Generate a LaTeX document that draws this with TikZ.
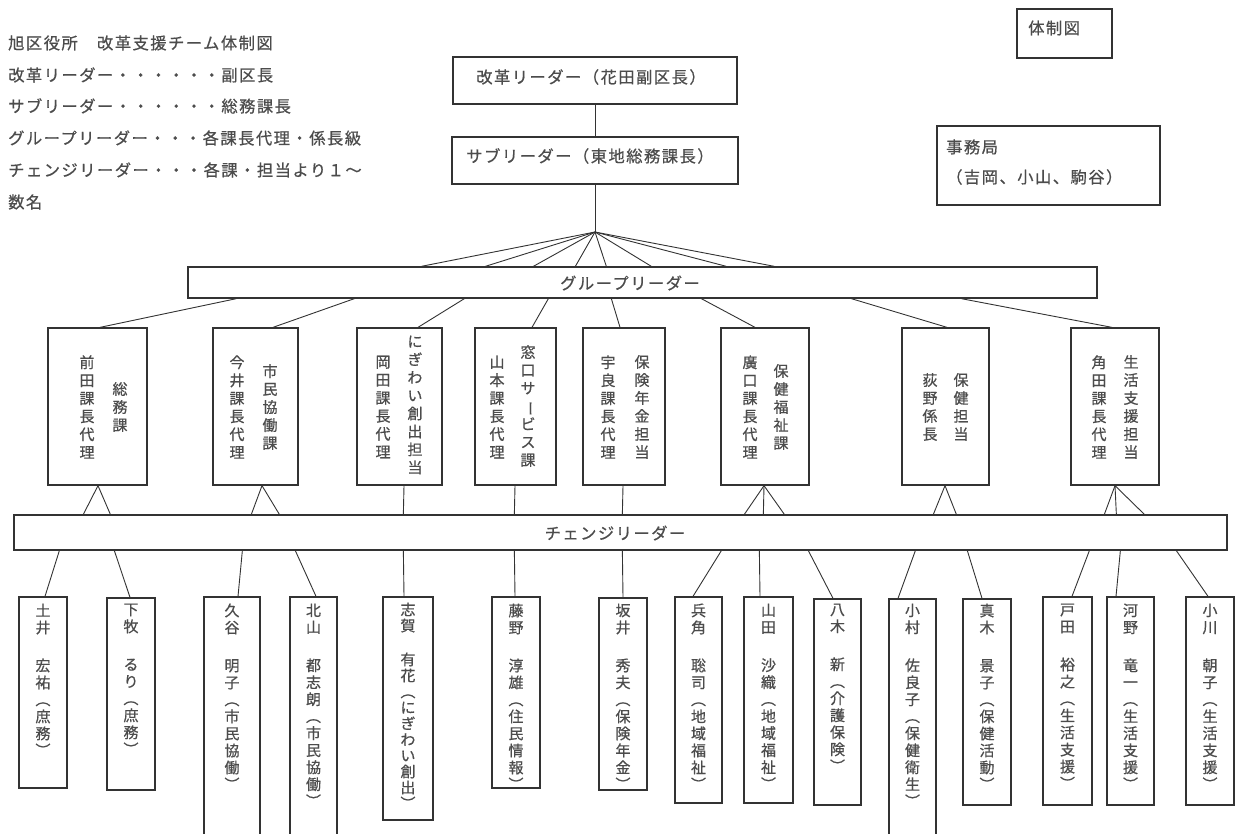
\documentclass[tikz,border=0pt]{standalone}
\usepackage{fontspec}
\usepackage{graphicx}
\newfontfamily\cjk{Noto Sans CJK JP}[FakeBold=0.6]
\newfontfamily\cjkw{Noto Sans CJK JP}[LetterSpace=9,FakeBold=0.6]
\usetikzlibrary{calc}
\newcommand\VL{\rotatebox[origin=c]{-90}{（}}
\newcommand\VR{\rotatebox[origin=c]{-90}{）}}
\newcommand\VB{\rotatebox[origin=c]{-90}{ー}}
\definecolor{ink}{gray}{0.2}
\definecolor{txt}{gray}{0.3}
\begin{document}
\begin{tikzpicture}[x=1pt,y=-1pt,
  box/.style={draw=ink, line width=1.3pt, fill=white, inner sep=0pt},
  conn/.style={draw=ink, line width=0.9pt},
  hline/.style={font=\cjkw\fontsize{16.3}{18}\selectfont, text=txt, inner sep=0pt},
  vcol/.style={font=\cjk\fontsize{15}{18}\selectfont, text=txt, align=center, inner sep=0pt},
  vname/.style={font=\cjk\fontsize{15}{17}\selectfont, text=txt, align=center, inner sep=0pt, anchor=north},
]
\useasboundingbox (0,0) rectangle (1236,833);
\clip (0,0) rectangle (1236,833);
\fill[white] (0,0) rectangle (1236,833);

% title lines
\node[hline, anchor=west] (t1) at (8,43) {旭区役所　改革支援チーム体制図};
\node[hline, anchor=west] (t2) at (8,75) {改革リーダー・・・・・・副区長};
\node[hline, anchor=west] (t3) at (8,106) {サブリーダー・・・・・・総務課長};
\node[hline, anchor=west] (t4) at (8,138) {グループリーダー・・・各課長代理・係長級};
\node[hline, anchor=west] (t5) at (8,170) {チェンジリーダー・・・各課・担当より１～};
\node[hline, anchor=west] (t6) at (8,202) {数名};

% top right boxes
\node[box, minimum width=95, minimum height=49] (tz) at (1064.5,33.5) {};
\node[hline, anchor=west] (tzt) at (1028,28) {体制図};
\node[box, minimum width=223, minimum height=79] (jm) at (1048.5,165.5) {};
\node[hline, anchor=west] (jm1) at (946,147) {事務局};
\node[hline, anchor=west] (jm2) at (946,177) {（吉岡、小山、駒谷）};

% leaders
\node[box, minimum width=284, minimum height=47] (r1) at (595,80.5) {};
\node[hline] (r1t) at (591,77) {改革リーダー（花田副区長）};
\node[box, minimum width=286, minimum height=47] (r2) at (595,160.5) {};
\node[hline] (r2t) at (590,156) {サブリーダー（東地総務課長）};
\coordinate (fan) at (595,232);

% bars
\node[box, minimum width=909, minimum height=31] (gl) at (642.5,282.5) {};
\node[hline] (glt) at (630,283) {グループリーダー};
\node[box, minimum width=1213, minimum height=35] (cl) at (620.5,532.5) {};
\node[hline] (clt) at (615,533) {チェンジリーダー};

% group leader boxes
\node[box, minimum width=99, minimum height=157] (g1) at (97.5,406.5) {};
\node[box, minimum width=85, minimum height=157] (g2) at (255.5,406.5) {};
\node[box, minimum width=85, minimum height=157] (g3) at (399.5,406.5) {};
\node[box, minimum width=81, minimum height=157] (g4) at (515.5,406.5) {};
\node[box, minimum width=82, minimum height=157] (g5) at (624,406.5) {};
\node[box, minimum width=88, minimum height=157] (g6) at (765,406.5) {};
\node[box, minimum width=87, minimum height=157] (g7) at (945.5,406.5) {};
\node[box, minimum width=88, minimum height=157] (g8) at (1115,406.5) {};

\node[vcol] (g1r) at (120,407) {総\\務\\課};
\node[vcol] (g1l) at (87,407) {前\\田\\課\\長\\代\\理};
\node[vcol] (g2r) at (270,407) {市\\民\\協\\働\\課};
\node[vcol] (g2l) at (237,407) {今\\井\\課\\長\\代\\理};
\node[vcol] (g3r) at (415,405) {に\\ぎ\\わ\\い\\創\\出\\担\\当};
\node[vcol] (g3l) at (383,407) {岡\\田\\課\\長\\代\\理};
\node[vcol] (g4r) at (528,406) {窓\\口\\サ\\\VB\\ビ\\ス\\課};
\node[vcol] (g4l) at (497,407) {山\\本\\課\\長\\代\\理};
\node[vcol] (g5r) at (642,407) {保\\険\\年\\金\\担\\当};
\node[vcol] (g5l) at (608,407) {宇\\良\\課\\長\\代\\理};
\node[vcol] (g6r) at (781,407) {保\\健\\福\\祉\\課};
\node[vcol] (g6l) at (750,407) {廣\\口\\課\\長\\代\\理};
\node[vcol] (g7r) at (961,407) {保\\健\\担\\当};
\node[vcol] (g7l) at (930,407) {荻\\野\\係\\長};
\node[vcol] (g8r) at (1131,407) {生\\活\\支\\援\\担\\当};
\node[vcol] (g8l) at (1099,407) {角\\田\\課\\長\\代\\理};

% person boxes
\node[box, minimum width=48, minimum height=191] (p1) at (43,692.5) {};
\node[box, minimum width=48, minimum height=192] (p2) at (131,694) {};
\node[box, minimum width=56, minimum height=253] (p3) at (232,723.5) {};
\node[box, minimum width=47, minimum height=253] (p4) at (313.5,723.5) {};
\node[box, minimum width=50, minimum height=223] (p5) at (408,708.5) {};
\node[box, minimum width=48, minimum height=191] (p6) at (516,692.5) {};
\node[box, minimum width=48, minimum height=192] (p7) at (623,694) {};
\node[box, minimum width=47, minimum height=206] (p8) at (698.5,700) {};
\node[box, minimum width=49, minimum height=206] (p9) at (768.5,700) {};
\node[box, minimum width=47, minimum height=206] (p10) at (837.5,702) {};
\node[box, minimum width=47, minimum height=251] (p11) at (912.5,724.5) {};
\node[box, minimum width=48, minimum height=206] (p12) at (987,702) {};
\node[box, minimum width=49, minimum height=208] (p13) at (1067.5,701) {};
\node[box, minimum width=47, minimum height=208] (p14) at (1130.5,701) {};
\node[box, minimum width=48, minimum height=208] (p15) at (1210,701) {};

\node[vname] (p1t) at ($(p1.north)+(0,7)$) {土\\井\\[21pt]宏\\祐\\\VL\\庶\\務\\\VR};
\node[vname] (p2t) at ($(p2.north)+(0,6)$) {下\\牧\\[21pt]る\\り\\\VL\\庶\\務\\\VR};
\node[vname] (p3t) at ($(p3.north)+(0,7)$) {久\\谷\\[21pt]明\\子\\\VL\\市\\民\\協\\働\\\VR};
\node[vname] (p4t) at ($(p4.north)+(0,7)$) {北\\山\\[21pt]都\\志\\朗\\\VL\\市\\民\\協\\働\\\VR};
\node[vname, font=\cjk\fontsize{15}{16}\selectfont] (p5t) at ($(p5.north)+(0,6)$) {志\\賀\\[18pt]有\\花\\\VL\\に\\ぎ\\わ\\い\\創\\出\\\VR};
\node[vname] (p6t) at ($(p6.north)+(0,7)$) {藤\\野\\[21pt]淳\\雄\\\VL\\住\\民\\情\\報\\\VR};
\node[vname] (p7t) at ($(p7.north)+(0,6)$) {坂\\井\\[21pt]秀\\夫\\\VL\\保\\険\\年\\金\\\VR};
\node[vname] (p8t) at ($(p8.north)+(0,7)$) {兵\\角\\[21pt]聡\\司\\\VL\\地\\域\\福\\祉\\\VR};
\node[vname] (p9t) at ($(p9.north)+(0,7)$) {山\\田\\[21pt]沙\\織\\\VL\\地\\域\\福\\祉\\\VR};
\node[vname] (p10t) at ($(p10.north)+(0,5)$) {八\\木\\[21pt]新\\\VL\\介\\護\\保\\険\\\VR};
\node[vname] (p11t) at ($(p11.north)+(0,5)$) {小\\村\\[21pt]佐\\良\\子\\\VL\\保\\健\\衛\\生\\\VR};
\node[vname] (p12t) at ($(p12.north)+(0,5)$) {真\\木\\[21pt]景\\子\\\VL\\保\\健\\活\\動\\\VR};
\node[vname] (p13t) at ($(p13.north)+(0,7)$) {戸\\田\\[21pt]裕\\之\\\VL\\生\\活\\支\\援\\\VR};
\node[vname] (p14t) at ($(p14.north)+(0,7)$) {河\\野\\[21pt]竜\\一\\\VL\\生\\活\\支\\援\\\VR};
\node[vname] (p15t) at ($(p15.north)+(0,7)$) {小\\川\\[21pt]朝\\子\\\VL\\生\\活\\支\\援\\\VR};

% connectors
\draw[conn] (r1.south) -- (r2.north);
\draw[conn] (r2.south) -- (fan);
\foreach \d in {234,298,346,388,419,464,539,587}
  \draw[conn] (fan) -- ($(gl.north west)+(\d,0)$);
\foreach \i/\a/\b in {1/49/2.5, 2/167/17.5, 3/277/18.5, 4/361/16.5, 5/424/-4, 6/514/-10, 7/664/1.5, 8/774/-3}
  \draw[conn] ($(gl.south west)+(\a,0)$) -- ($(g\i.north)+(\b,0)$);
\foreach \i/\s/\e in {1/0.5/70, 1/0.5/97, 2/6.5/238, 2/6.5/266, 3/4.5/390, 4/-0.5/501, 5/-1/609, 6/-1/731, 6/-1/750, 6/-1/771, 7/-0.5/920, 7/-0.5/943, 8/0/1091, 8/0/1103, 8/0/1131}
  \draw[conn] ($(g\i.south)+(\s,0)$) -- ($(cl.north west)+(\e,0)$);
\foreach \i/\s/\e in {1/46/2, 2/101/-1, 3/229/6, 4/282/2.5, 5/390/-4, 6/501/-1, 7/609/0, 8/708/-5.5, 9/746/-8.5, 10/795/-4.5, 11/902/-14.5, 12/954/-5, 13/1076/4.5, 14/1107/-14.5, 15/1163/-2}
  \draw[conn] ($(cl.south west)+(\s,0)$) -- ($(p\i.north)+(\e,0)$);
\end{tikzpicture}
\end{document}
